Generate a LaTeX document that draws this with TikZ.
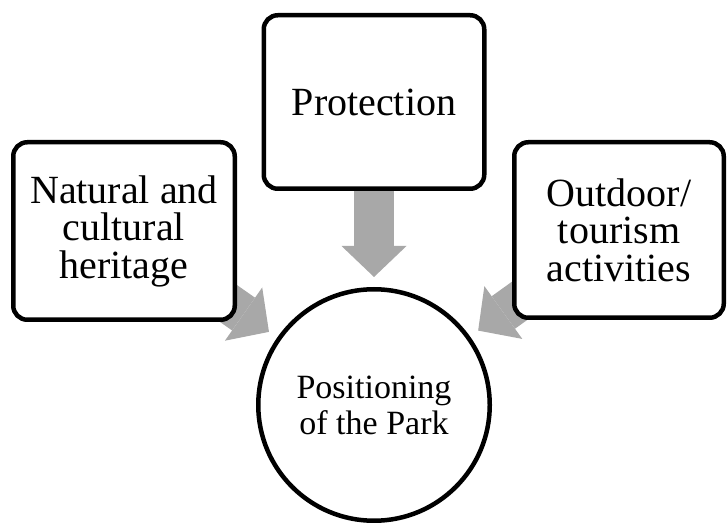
\documentclass[tikz,border=0pt]{standalone}
\usepackage{fontspec}
\setmainfont{Liberation Serif}
\usetikzlibrary{arrows.meta, backgrounds}

\definecolor{arrowgray}{RGB}{168,168,168}

\tikzset{
  boxstyle/.style={draw, fill=white, line width=4.5pt, rounded corners=14pt,
    align=center, inner sep=0pt, font=\fontsize{40}{37.5}\selectfont},
  parkstyle/.style={draw, fill=white, circle, line width=4.5pt, align=center,
    inner sep=0pt, minimum size=231.5pt, font=\fontsize{34}{36}\selectfont},
  flowarrow/.style={draw=arrowgray, line width=40pt,
    -{Triangle[width=65pt, length=31pt, line width=0pt]},
    shorten >=10pt, shorten <=-40pt}
}

\begin{document}
\begin{tikzpicture}[x=1pt, y=1pt]
  \useasboundingbox (0,0) rectangle (727,522);

  % Centre circle
  \node[parkstyle] (park) at (374,117) {Positioning\\of the Park};

  % Surrounding boxes
  \node[boxstyle, minimum width=221.5pt, minimum height=177.5pt] (heritage) at (124,291) {Natural and\\cultural\\heritage};
  \node[boxstyle, minimum width=220.5pt, minimum height=173.5pt] (protection) at (374,420) {Protection};
  \node[boxstyle, minimum width=209.5pt, minimum height=175.5pt] (outdoor) at (619,292) {Outdoor/\\tourism\\activities};

  % Arrows, kept behind the boxes
  \begin{scope}[on background layer]
    \foreach \src in {heritage, protection, outdoor} {
      \draw[flowarrow] (\src) -- (park);
    }
  \end{scope}
\end{tikzpicture}
\end{document}
